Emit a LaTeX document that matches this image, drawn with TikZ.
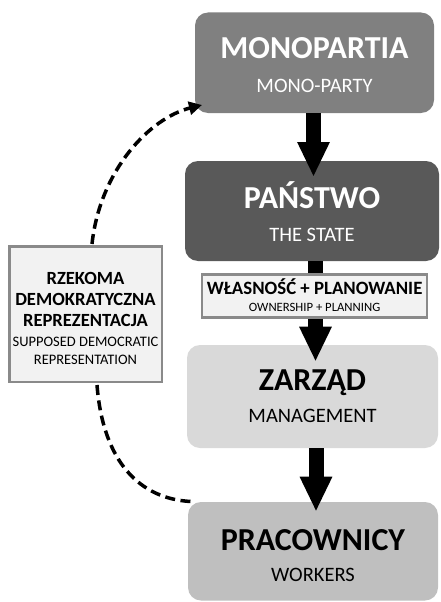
\documentclass[tikz,border=0pt]{standalone}
\usepackage{fontspec}
\setmainfont{Carlito}
\usetikzlibrary{arrows.meta,calc}
\definecolor{cmono}{HTML}{808080}
\definecolor{cstate}{HTML}{595959}
\definecolor{czarz}{HTML}{D9D9D9}
\definecolor{cprac}{HTML}{BFBFBF}
\definecolor{clabfill}{HTML}{F2F2F2}
\definecolor{clabdraw}{HTML}{8A8A8A}
\begin{document}
\begin{tikzpicture}[x=1pt,y=-1pt,
  mainbox/.style={rectangle, rounded corners=13pt, inner sep=0pt, draw=none},
  labbox/.style={rectangle, inner sep=0pt, fill=clabfill, draw=clabdraw, line width=2.5pt},
  ttl/.style={anchor=base, inner sep=0pt, font=\bfseries\fontsize{32}{36}\selectfont},
  sub/.style={anchor=base, inner sep=0pt, font=\fontsize{20.5}{24}\selectfont},
  bigarrow/.style={line width=15pt, -{Triangle[length=35pt,width=30pt]}},
  dasharrow/.style={line width=3.5pt, dash pattern=on 10pt off 5.5pt},
]
\useasboundingbox (0,0) rectangle (440,602);
% main boxes
\node[mainbox, fill=cmono, minimum width=239pt, minimum height=100.5pt] (mono) at (314.5,62.75) {};
\node[mainbox, fill=cstate, minimum width=254pt, minimum height=100pt] (state) at (312,211) {};
\node[mainbox, fill=czarz, minimum width=251pt, minimum height=103pt] (zarz) at (312.5,396.5) {};
\node[mainbox, fill=cprac, minimum width=250pt, minimum height=98.5pt] (prac) at (313,551.25) {};
% texts
\node[ttl, text=white] (monoT) at (314.5,59) {MONOPARTIA};
\node[sub, text=white] (monoS) at (314.5,92.3) {MONO-PARTY};
\node[ttl, text=white] (stateT) at (312,208.3) {PAŃSTWO};
\node[sub, text=white] (stateS) at (312,241) {THE STATE};
\node[ttl] (zarzT) at (312.5,390.5) {ZARZĄD};
\node[sub] (zarzS) at (312.5,422.7) {MANAGEMENT};
\node[ttl] (pracT) at (313,550) {PRACOWNICY};
\node[sub] (pracS) at (313,581.7) {WORKERS};
% arrows
\coordinate (a1s) at (mono.south -| 313.5,0);
\coordinate (a1e) at (313.5,177);
\coordinate (a2s) at (state.south -| 315.5,0);
\coordinate (a2e) at (315.5,361.7);
\coordinate (a3s) at (zarz.south -| 316,0);
\coordinate (a3e) at (316,511.7);
\draw[bigarrow] (a1s) -- (a1e);
\draw[bigarrow] (a2s) -- (a2e);
\draw[bigarrow] (a3s) -- (a3e);
% ownership label
\node[labbox, minimum width=225pt, minimum height=43pt] (own) at (314.6,295.8) {};
\node[anchor=base, inner sep=0pt, font=\bfseries\fontsize{18.8}{22}\selectfont] (ownT) at (314.6,294) {WŁASNOŚĆ + PLANOWANIE};
\node[anchor=base, inner sep=0pt, font=\fontsize{12.7}{15}\selectfont] (ownS) at (314.6,311.7) {OWNERSHIP + PLANNING};
% left label
\node[labbox, minimum width=152.5pt, minimum height=135.5pt] (left) at (85.5,314) {};
\node[anchor=base, inner sep=0pt, font=\bfseries\fontsize{18.6}{22}\selectfont] (l1) at (85.5,284) {RZEKOMA};
\node[anchor=base, inner sep=0pt, font=\bfseries\fontsize{18.6}{22}\selectfont] (l2) at (85.5,305.7) {DEMOKRATYCZNA};
\node[anchor=base, inner sep=0pt, font=\bfseries\fontsize{18.6}{22}\selectfont] (l3) at (85.5,326.7) {REPREZENTACJA};
\node[anchor=base, inner sep=0pt, font=\fontsize{14.5}{17}\selectfont] (l4) at (85.5,346.7) {SUPPOSED DEMOCRATIC};
\node[anchor=base, inner sep=0pt, font=\fontsize{14.5}{17}\selectfont] (l5) at (85.5,364) {REPRESENTATION};
% dashed connectors
\coordinate (uS) at (92,244);
\coordinate (uE) at (202,105);
\coordinate (dS) at (97,385);
\coordinate (dE) at (191,501.5);
\draw[dasharrow, -{Triangle[length=13pt,width=13pt]}] (uS) .. controls (100,170) and (150,118) .. (uE);
\draw[dasharrow] (dS) .. controls (103,462) and (140,499) .. (dE);
\end{tikzpicture}
\end{document}
